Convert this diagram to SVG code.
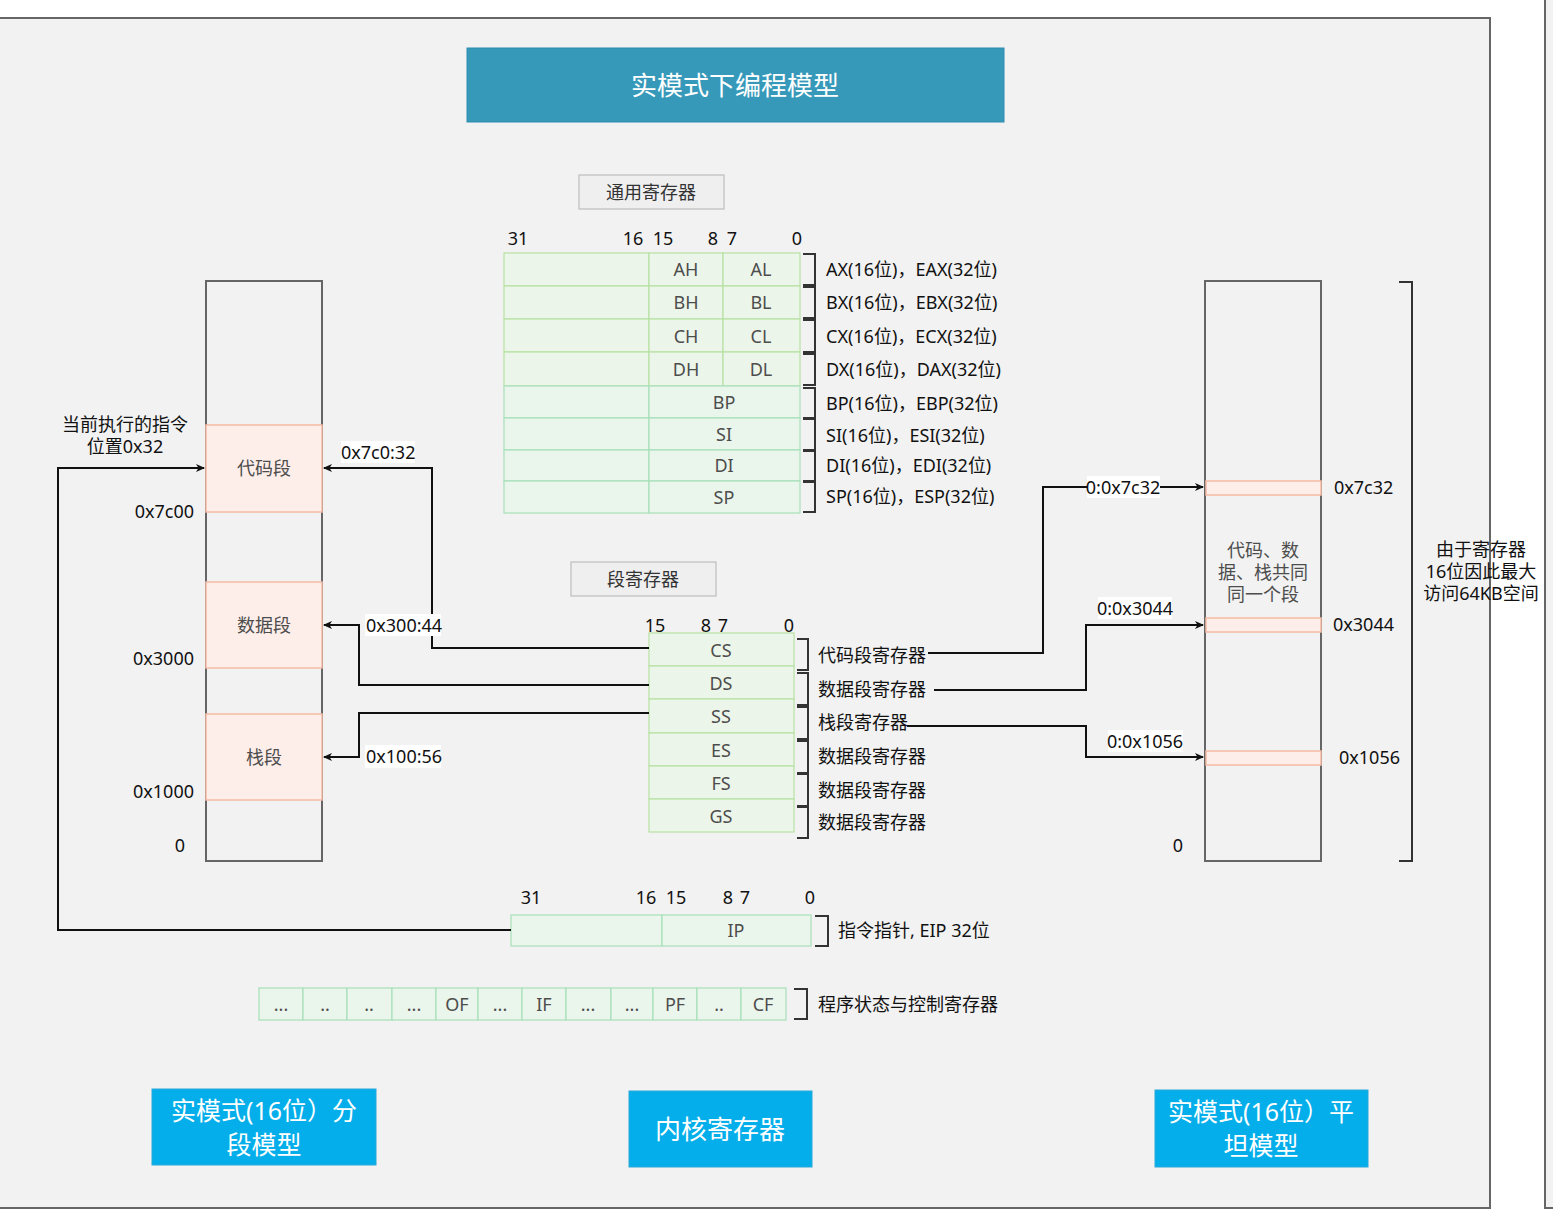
<svg xmlns="http://www.w3.org/2000/svg" width="1553" height="1219" viewBox="0 0 1553 1219">
<style>
text{font-family:"Noto Sans","Noto Sans CJK SC",sans-serif;font-size:18px;fill:#111;dominant-baseline:central}
.c{text-anchor:middle}
.r{text-anchor:end}
.cell{font-size:18px;fill:#4d4d4d;text-anchor:middle}
.gr{fill:#ecf5e9;stroke:#b7e1a3;stroke-width:1.2}
.gr2{fill:#eaf5ec;stroke:#a7dfba;stroke-width:1.2}
.seg{fill:#fdeeea;stroke:#f4bba4;stroke-width:1.5}
.mem{fill:none;stroke:#666;stroke-width:2}
.br{fill:none;stroke:#333;stroke-width:2}
.cn{fill:none;stroke:#111;stroke-width:2}
.gbox{fill:#efefef;stroke:#bdbdbd;stroke-width:1.2}
.blue{fill:#03aeea;stroke:#2aa8d8;stroke-width:1}
.wt{fill:#fff;font-size:26px;text-anchor:middle}
.wt2{fill:#fff;font-size:25px;text-anchor:middle}
.lbl{fill:#fff}
</style>
<defs>
<marker id="ah" markerWidth="10" markerHeight="8" refX="8" refY="4" orient="auto" markerUnits="userSpaceOnUse">
<path d="M0,0 L9,4 L0,8 L2.5,4 z" fill="#111"/>
</marker>
</defs>
<g id="panels">
<rect x="-5" y="18" width="1495" height="1190" fill="#f2f2f2" stroke="#666" stroke-width="2"/>
<rect x="1545" y="-5" width="30" height="1213" fill="#f2f2f2" stroke="#666" stroke-width="2"/>
</g>
<g id="title">
<rect x="467" y="48" width="537" height="74" fill="#3799b9" stroke="#2d8cad" stroke-width="1"/>
<text class="wt" x="735" y="85">实模式下编程模型</text>
</g>
<g id="gp-title">
<rect class="gbox" x="579" y="175" width="145" height="34"/>
<text class="c" x="651" y="192" style="fill:#333">通用寄存器</text>
</g>
<g id="gp-bits">
<text class="c" x="518" y="238">31</text>
<text class="c" x="633" y="238">16</text>
<text class="c" x="663" y="238">15</text>
<text class="c" x="713" y="238">8</text>
<text class="c" x="732" y="238">7</text>
<text class="c" x="797" y="238">0</text>
</g>
<g id="reg-ax">
<rect class="gr" x="504" y="253" width="145" height="33"/><rect class="gr" x="649" y="253" width="74" height="33"/><rect class="gr" x="723" y="253" width="77" height="33"/>
<text class="cell" x="686" y="269">AH</text><text class="cell" x="761" y="269">AL</text>
<path class="br" d="M803,254 H815 V285 H803"/>
<text x="826" y="269">AX(16位)，EAX(32位)</text>
</g>
<g id="reg-bx">
<rect class="gr" x="504" y="286" width="145" height="33"/><rect class="gr" x="649" y="286" width="74" height="33"/><rect class="gr" x="723" y="286" width="77" height="33"/>
<text class="cell" x="686" y="302">BH</text><text class="cell" x="761" y="302">BL</text>
<path class="br" d="M803,287 H815 V318 H803"/>
<text x="826" y="302">BX(16位)，EBX(32位)</text>
</g>
<g id="reg-cx">
<rect class="gr" x="504" y="319" width="145" height="33"/><rect class="gr" x="649" y="319" width="74" height="33"/><rect class="gr" x="723" y="319" width="77" height="33"/>
<text class="cell" x="686" y="336">CH</text><text class="cell" x="761" y="336">CL</text>
<path class="br" d="M803,320 H815 V352 H803"/>
<text x="826" y="336">CX(16位)，ECX(32位)</text>
</g>
<g id="reg-dx">
<rect class="gr" x="504" y="352" width="145" height="34"/><rect class="gr" x="649" y="352" width="74" height="34"/><rect class="gr" x="723" y="352" width="77" height="34"/>
<text class="cell" x="686" y="369">DH</text><text class="cell" x="761" y="369">DL</text>
<path class="br" d="M803,354 H815 V385 H803"/>
<text x="826" y="369">DX(16位)，DAX(32位)</text>
</g>
<g id="reg-bp">
<rect class="gr2" x="504" y="386" width="145" height="32"/><rect class="gr2" x="649" y="386" width="151" height="32"/>
<text class="cell" x="724" y="402">BP</text>
<path class="br" d="M803,388 H815 V418 H803"/>
<text x="826" y="403">BP(16位)，EBP(32位)</text>
</g>
<g id="reg-si">
<rect class="gr2" x="504" y="418" width="145" height="32"/><rect class="gr2" x="649" y="418" width="151" height="32"/>
<text class="cell" x="724" y="434">SI</text>
<path class="br" d="M803,419 H815 V450 H803"/>
<text x="826" y="435">SI(16位)，ESI(32位)</text>
</g>
<g id="reg-di">
<rect class="gr2" x="504" y="450" width="145" height="31"/><rect class="gr2" x="649" y="450" width="151" height="31"/>
<text class="cell" x="724" y="465">DI</text>
<path class="br" d="M803,451 H815 V481 H803"/>
<text x="826" y="465">DI(16位)，EDI(32位)</text>
</g>
<g id="reg-sp">
<rect class="gr2" x="504" y="481" width="145" height="32"/><rect class="gr2" x="649" y="481" width="151" height="32"/>
<text class="cell" x="724" y="497">SP</text>
<path class="br" d="M803,482 H815 V512 H803"/>
<text x="826" y="496">SP(16位)，ESP(32位)</text>
</g>
<g id="seg-title">
<rect class="gbox" x="571" y="562" width="145" height="34"/>
<text class="c" x="643" y="579" style="fill:#333">段寄存器</text>
</g>
<g id="seg-bits">
<text class="c" x="655" y="625">15</text>
<text class="c" x="706" y="625">8</text>
<text class="c" x="723" y="625">7</text>
<text class="c" x="789" y="625">0</text>
</g>
<g id="reg-cs">
<rect class="gr" x="649" y="633" width="145" height="33"/><text class="cell" x="721" y="650">CS</text>
<path class="br" d="M797,639 H808 V670 H797"/><text x="818" y="655">代码段寄存器</text>
</g>
<g id="reg-ds">
<rect class="gr" x="649" y="666" width="145" height="33"/><text class="cell" x="721" y="683">DS</text>
<path class="br" d="M797,673 H808 V705 H797"/><text x="818" y="689">数据段寄存器</text>
</g>
<g id="reg-ss">
<rect class="gr" x="649" y="699" width="145" height="34"/><text class="cell" x="721" y="716">SS</text>
<path class="br" d="M797,707 H808 V739 H797"/><text x="818" y="722">栈段寄存器</text>
</g>
<g id="reg-es">
<rect class="gr" x="649" y="733" width="145" height="33"/><text class="cell" x="721" y="750">ES</text>
<path class="br" d="M797,741 H808 V773 H797"/><text x="818" y="756">数据段寄存器</text>
</g>
<g id="reg-fs">
<rect class="gr" x="649" y="766" width="145" height="33"/><text class="cell" x="721" y="783">FS</text>
<path class="br" d="M797,774 H808 V806 H797"/><text x="818" y="790">数据段寄存器</text>
</g>
<g id="reg-gs">
<rect class="gr" x="649" y="799" width="145" height="33"/><text class="cell" x="721" y="816">GS</text>
<path class="br" d="M797,807 H808 V838 H797"/><text x="818" y="822">数据段寄存器</text>
</g>
<g id="left-memory">
<rect class="mem" x="206" y="281" width="116" height="580"/>
<text class="r" x="194" y="511">0x7c00</text>
<text class="r" x="194" y="658">0x3000</text>
<text class="r" x="194" y="791">0x1000</text>
<text class="c" x="180" y="845">0</text>
<text class="c" x="125" y="424">当前执行的指令</text>
<text class="c" x="125" y="446">位置0x32</text>
</g>
<g id="code-seg"><rect class="seg" x="206" y="425" width="116" height="87"/><text class="cell" x="264" y="468">代码段</text></g>
<g id="data-seg"><rect class="seg" x="206" y="582" width="116" height="86"/><text class="cell" x="264" y="625">数据段</text></g>
<g id="stack-seg"><rect class="seg" x="206" y="714" width="116" height="86"/><text class="cell" x="264" y="757">栈段</text></g>
<g id="right-memory">
<rect class="mem" x="1205" y="281" width="116" height="580"/>
<rect class="seg" x="1206" y="481" width="115" height="14"/>
<rect class="seg" x="1206" y="618" width="115" height="14"/>
<rect class="seg" x="1206" y="751" width="115" height="14"/>
<text class="cell" x="1263" y="550">代码、数</text>
<text class="cell" x="1263" y="572">据、栈共同</text>
<text class="cell" x="1263" y="594">同一个段</text>
<text x="1334" y="487">0x7c32</text>
<text x="1333" y="624">0x3044</text>
<text x="1339" y="757">0x1056</text>
<text class="c" x="1178" y="845">0</text>
<path class="br" d="M1399,282 H1412 V861 H1399"/>
<text class="c" x="1481" y="549">由于寄存器</text>
<text class="c" x="1481" y="571">16位因此最大</text>
<text class="c" x="1481" y="593">访问64KB空间</text>
</g>
<g id="ip-bits">
<text class="c" x="531" y="897">31</text>
<text class="c" x="646" y="897">16</text>
<text class="c" x="676" y="897">15</text>
<text class="c" x="728" y="897">8</text>
<text class="c" x="745" y="897">7</text>
<text class="c" x="810" y="897">0</text>
</g>
<g id="reg-ip">
<rect class="gr2" x="511" y="915" width="151" height="31"/><rect class="gr2" x="662" y="915" width="149" height="31"/>
<text class="cell" x="736" y="930">IP</text>
<path class="br" d="M815,916 H828 V946 H815"/>
<text x="838" y="930">指令指针, EIP 32位</text>
</g>
<g id="reg-flags">
<rect class="gr2" x="259" y="988" width="44" height="32"/><text class="cell" x="281" y="1004">...</text>
<rect class="gr2" x="303" y="988" width="44" height="32"/><text class="cell" x="325" y="1004">..</text>
<rect class="gr2" x="347" y="988" width="45" height="32"/><text class="cell" x="369" y="1004">..</text>
<rect class="gr2" x="392" y="988" width="44" height="32"/><text class="cell" x="414" y="1004">...</text>
<rect class="gr2" x="436" y="988" width="42" height="32"/><text class="cell" x="457" y="1004">OF</text>
<rect class="gr2" x="478" y="988" width="44" height="32"/><text class="cell" x="500" y="1004">...</text>
<rect class="gr2" x="522" y="988" width="44" height="32"/><text class="cell" x="544" y="1004">IF</text>
<rect class="gr2" x="566" y="988" width="45" height="32"/><text class="cell" x="588" y="1004">...</text>
<rect class="gr2" x="611" y="988" width="42" height="32"/><text class="cell" x="632" y="1004">...</text>
<rect class="gr2" x="653" y="988" width="44" height="32"/><text class="cell" x="675" y="1004">PF</text>
<rect class="gr2" x="697" y="988" width="44" height="32"/><text class="cell" x="719" y="1004">..</text>
<rect class="gr2" x="741" y="988" width="45" height="32"/><text class="cell" x="763" y="1004">CF</text>
<path class="br" d="M794,989 H807 V1019 H794"/>
<text x="818" y="1004">程序状态与控制寄存器</text>
</g>
<g id="connectors">
<path class="cn" d="M511,930 H58 V468 H204" marker-end="url(#ah)"/>
<path class="cn" d="M649,648 H432 V468 H324" marker-end="url(#ah)"/>
<path class="cn" d="M649,685 H359 V625 H324" marker-end="url(#ah)"/>
<path class="cn" d="M649,713 H359 V757 H324" marker-end="url(#ah)"/>
<path class="cn" d="M928,653 H1043 V487 H1203" marker-end="url(#ah)"/>
<path class="cn" d="M934,690 H1086 V625 H1203" marker-end="url(#ah)"/>
<path class="cn" d="M907,726 H1086 V757 H1203" marker-end="url(#ah)"/>
<rect class="lbl" x="341" y="441" width="74" height="22"/><text x="341" y="452">0x7c0:32</text>
<rect class="lbl" x="365" y="614" width="76" height="22"/><text x="366" y="625">0x300:44</text>
<rect class="lbl" x="365" y="745" width="76" height="23"/><text x="366" y="756">0x100:56</text>
<rect class="lbl" x="1087" y="476" width="73" height="22"/><text class="c" x="1123" y="487">0:0x7c32</text>
<rect class="lbl" x="1098" y="597" width="74" height="22"/><text class="c" x="1135" y="608">0:0x3044</text>
<rect class="lbl" x="1108" y="730" width="75" height="22"/><text class="c" x="1145" y="741">0:0x1056</text>
</g>
<g id="mode-seg">
<rect class="blue" x="152" y="1089" width="224" height="76"/>
<text class="wt2" x="264" y="1110">实模式(16位）分</text>
<text class="wt2" x="264" y="1144">段模型</text>
</g>
<g id="mode-core">
<rect class="blue" x="629" y="1091" width="183" height="76"/>
<text class="wt" x="720" y="1129">内核寄存器</text>
</g>
<g id="mode-flat">
<rect class="blue" x="1155" y="1090" width="213" height="77"/>
<text class="wt2" x="1261" y="1111">实模式(16位）平</text>
<text class="wt2" x="1261" y="1145">坦模型</text>
</g>
</svg>
